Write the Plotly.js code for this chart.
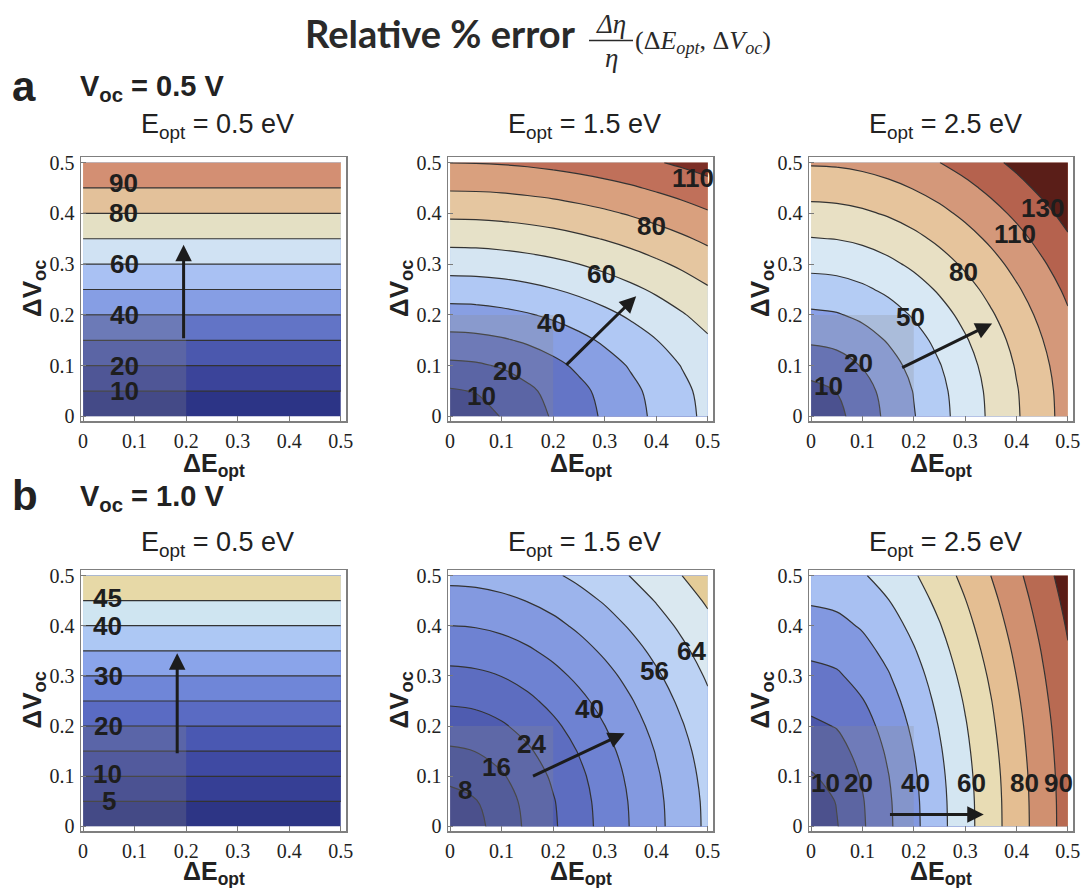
<!DOCTYPE html>
<html><head><meta charset="utf-8">
<script src="https://cdn.plot.ly/plotly-3.0.1.min.js"></script>
<style>html,body{margin:0;padding:0;background:#fff}#chart{width:1084px;height:888px}</style>
</head><body><div id="chart"></div>
<script>
// ================= DATA =================
const mainTitle = 'Relative % error';
const rowLetters = ['a', 'b'];
const rowTitles = ['V<sub>oc</sub> = 0.5 V', 'V<sub>oc</sub> = 1.0 V'];
const panelTitles = ['E<sub>opt</sub> = 0.5 eV', 'E<sub>opt</sub> = 1.5 eV', 'E<sub>opt</sub> = 2.5 eV'];
const xTitle = '<b>ΔE<sub>opt</sub></b>';
const yTitle = '<b>ΔV<sub>oc</sub></b>';
const tickVals = [0, 0.1, 0.2, 0.3, 0.4, 0.5];
const tickLabels = ['0', '0.1', '0.2', '0.3', '0.4', '0.5'];

// grids (ΔE_opt along x, ΔV_oc along y)
const dEgrid = [0, 0.05, 0.1, 0.15, 0.2, 0.25, 0.3, 0.35, 0.4, 0.45, 0.5];
const dVgrid = [0, 0.05, 0.1, 0.15, 0.2, 0.25, 0.3, 0.35, 0.4, 0.45, 0.5];
const dEends = [0, 0.5];
const dVends = [0, 0.5];

// relative % error values (rows = ΔV_oc, cols = ΔE_opt)
const zA1 = [[0, 0], [100, 100]];
const zB1 = [[0, 0], [50, 50]];
const zA2 = [
  [0, 5.8, 11.6, 17.4, 23.2, 29.0, 34.8, 40.6, 46.4, 52.2, 58.0],
  [10.0, 11.6, 15.3, 20.1, 25.3, 30.7, 36.2, 41.8, 47.5, 53.1, 58.9],
  [20.0, 20.8, 23.1, 26.5, 30.6, 35.2, 40.1, 45.3, 50.5, 55.9, 61.4],
  [30.0, 30.6, 32.2, 34.7, 37.9, 41.7, 46.0, 50.5, 55.3, 60.2, 65.3],
  [40.0, 40.4, 41.7, 43.6, 46.2, 49.4, 53.0, 57.0, 61.3, 65.8, 70.5],
  [50.0, 50.3, 51.3, 52.9, 55.1, 57.8, 60.9, 64.4, 68.2, 72.3, 76.6],
  [60.0, 60.3, 61.1, 62.5, 64.3, 66.6, 69.4, 72.5, 75.9, 79.5, 83.5],
  [70.0, 70.2, 71.0, 72.1, 73.7, 75.8, 78.2, 80.9, 84.0, 87.3, 90.9],
  [80.0, 80.2, 80.8, 81.9, 83.3, 85.1, 87.2, 89.7, 92.5, 95.5, 98.8],
  [90.0, 90.2, 90.7, 91.7, 92.9, 94.6, 96.5, 98.7, 101.3, 104.0, 107.1],
  [100.0, 100.2, 100.7, 101.5, 102.7, 104.1, 105.9, 107.9, 110.2, 112.8, 115.6]
];
const zA3 = [
  [0, 10.4, 20.8, 31.2, 41.6, 52.0, 62.4, 72.8, 83.2, 93.6, 104.0],
  [10.0, 14.4, 23.1, 32.8, 42.8, 53.0, 63.2, 73.5, 83.8, 94.1, 104.5],
  [20.0, 22.5, 28.9, 37.1, 46.2, 55.7, 65.5, 75.5, 85.6, 95.7, 105.9],
  [30.0, 31.8, 36.5, 43.3, 51.3, 60.0, 69.2, 78.7, 88.4, 98.3, 108.2],
  [40.0, 41.3, 45.1, 50.7, 57.7, 65.6, 74.1, 83.1, 92.3, 101.8, 111.4],
  [50.0, 51.1, 54.2, 58.9, 65.0, 72.1, 80.0, 88.3, 97.1, 106.1, 115.4],
  [60.0, 60.9, 63.5, 67.6, 73.0, 79.4, 86.6, 94.3, 102.6, 111.2, 120.1],
  [70.0, 70.8, 73.0, 76.6, 81.4, 87.2, 93.8, 101.0, 108.7, 116.9, 125.4],
  [80.0, 80.7, 82.7, 85.9, 90.2, 95.4, 101.5, 108.2, 115.4, 123.1, 131.2],
  [90.0, 90.6, 92.4, 95.3, 99.2, 103.9, 109.5, 115.8, 122.6, 129.9, 137.5],
  [100.0, 100.5, 102.1, 104.8, 108.3, 112.7, 117.9, 123.7, 130.1, 137.0, 144.3]
];
const zB2 = [
  [0, 5.8, 11.5, 17.3, 23.0, 28.8, 34.5, 40.3, 46.0, 51.8, 57.5],
  [5.0, 7.6, 12.5, 18.0, 23.5, 29.2, 34.9, 40.6, 46.3, 52.0, 57.7],
  [10.0, 11.5, 15.2, 19.9, 25.1, 30.4, 35.9, 41.5, 47.1, 52.7, 58.4],
  [15.0, 16.1, 18.9, 22.9, 27.5, 32.4, 37.6, 43.0, 48.4, 53.9, 59.4],
  [20.0, 20.8, 23.1, 26.4, 30.5, 35.0, 39.9, 45.0, 50.2, 55.5, 60.9],
  [25.0, 25.7, 27.5, 30.4, 34.0, 38.1, 42.6, 47.4, 52.4, 57.5, 62.7],
  [30.0, 30.6, 32.1, 34.6, 37.8, 41.6, 45.7, 50.2, 54.9, 59.8, 64.9],
  [35.0, 35.5, 36.8, 39.0, 41.9, 45.3, 49.2, 53.3, 57.8, 62.5, 67.3],
  [40.0, 40.4, 41.6, 43.6, 46.1, 49.3, 52.8, 56.8, 61.0, 65.4, 70.0],
  [45.0, 45.4, 46.5, 48.2, 50.5, 53.4, 56.7, 60.4, 64.4, 68.6, 73.0],
  [50.0, 50.3, 51.3, 52.9, 55.0, 57.7, 60.8, 64.2, 67.9, 72.0, 76.2]
];
const zB3 = [
  [0, 10.4, 20.7, 31.1, 41.4, 51.8, 62.1, 72.5, 82.8, 93.2, 103.5],
  [5.0, 11.5, 21.3, 31.5, 41.7, 52.0, 62.3, 72.6, 83.0, 93.3, 103.6],
  [10.0, 14.4, 23.0, 32.6, 42.6, 52.7, 62.9, 73.1, 83.4, 93.7, 104.0],
  [15.0, 18.2, 25.6, 34.5, 44.03, 53.9, 63.9, 74.0, 84.2, 94.4, 104.6],
  [20.0, 22.5, 28.8, 36.9, 46.0, 55.5, 65.2, 75.2, 85.2, 95.3, 105.4],
  [25.0, 27.1, 32.5, 39.9, 48.4, 57.5, 66.9, 76.6, 86.5, 96.5, 106.5],
  [30.0, 31.7, 36.5, 43.2, 51.1, 59.8, 69.0, 78.4, 88.1, 97.9, 107.8],
  [35.0, 36.5, 40.7, 46.8, 54.2, 62.5, 71.3, 80.5, 89.9, 99.5, 109.3],
  [40.0, 41.3, 45.0, 50.6, 57.6, 65.4, 73.9, 82.8, 92.0, 101.4, 111.0],
  [45.0, 46.2, 49.5, 54.7, 61.2, 68.6, 76.7, 85.3, 94.2, 103.5, 112.9],
  [50.0, 51.1, 54.1, 58.9, 64.9, 72.0, 79.7, 88.03, 96.7, 105.7, 115.0]
];

// contour levels of each panel
const levelsA1 = {start: 10, end: 90, size: 10};
const levelsA2 = {start: 11.1, end: 111, size: 11.1};
const levelsA3 = {start: 14.1, end: 126.9, size: 14.1};
const levelsB1 = {start: 5, end: 45, size: 5};
const levelsB2 = {start: 8, end: 72, size: 8};
const levelsB3 = {start: 11, end: 110, size: 11};

// contour label texts
const labelsA1 = ['90', '80', '60', '40', '20', '10'];
const labelsA2 = ['110', '80', '60', '40', '20', '10'];
const labelsA3 = ['130', '110', '80', '50', '20', '10'];
const labelsB1 = ['45', '40', '30', '20', '10', '5'];
const labelsB2 = ['64', '56', '40', '24', '16', '8'];
const labelsB3 = ['10', '20', '40', '60', '80', '90'];

// ================= STYLE / LAYOUT =================
const W = 1084, H = 888;
const px = v => v / W, py = v => 1 - v / H;
const colFrames = [[81, 346], [448, 713], [809, 1073]];
const rowFrames = [[157, 421], [570, 831]];

const bandColors = {
  A1: ['#2c3486', '#3b449a', '#4b58ae', '#6274c6', '#869ee4', '#a9c1f3', '#d0e2f3', '#e4e0c4', '#e3c19a', '#d38f73'],
  A2: ['#343c8e', '#4b58ae', '#6475c6', '#889fe3', '#b0c8f4', '#d5e5f2', '#e6e1c8', '#e5c6a0', '#d9a07e', '#c0705a', '#7c2e26'],
  A3: ['#363e90', '#5b6bc0', '#8aa0e6', '#b4ccf4', '#d8e8f4', '#e8e0c4', '#e6c49c', '#d4987a', '#b5624e', '#5a1e18'],
  B1: ['#2d3585', '#363f95', '#3f4aa3', '#4a58b2', '#5a6bc3', '#6f86d8', '#8aa4ea', '#adc8f4', '#cfe5f1', '#e7d9a7'],
  B2: ['#363c8c', '#414c9e', '#4f5cb0', '#5d6dc0', '#6e82d2', '#8399e0', '#9cb4ec', '#bcd2f4', '#dae8f0', '#e4cc98'],
  B3: ['#373e8e', '#4c58aa', '#6676c8', '#8298e0', '#a8c0f2', '#d4e6f2', '#e8dcb4', '#e4be92', '#d09070', '#b86a52', '#5a1c16']
};

const panels = [
  {key: 'A1', x: dEends, y: dVends, z: zA1, lv: levelsA1, labels: labelsA1, row: 0, col: 0,
   lpos: [[0.078, 0.46], [0.078, 0.40], [0.08, 0.30], [0.08, 0.20], [0.08, 0.10], [0.08, 0.05]],
   arrow: [0.195, 0.151, 0.195, 0.338]},
  {key: 'A2', x: dEgrid, y: dVgrid, z: zA2, lv: levelsA2, labels: labelsA2, row: 0, col: 1,
   lpos: [[0.471, 0.47], [0.39, 0.375], [0.2935, 0.28], [0.197, 0.184], [0.111, 0.089], [0.061, 0.04]],
   arrow: [0.2226, 0.0987, 0.361, 0.2368]},
  {key: 'A3', x: dEgrid, y: dVgrid, z: zA3, lv: levelsA3, labels: labelsA3, row: 0, col: 2,
   lpos: [[0.45, 0.41], [0.398, 0.359], [0.2975, 0.284], [0.194, 0.196], [0.0925, 0.105], [0.034, 0.059]],
   arrow: [0.1746, 0.0948, 0.3525, 0.183]},
  {key: 'B1', x: dEends, y: dVends, z: zB1, lv: levelsB1, labels: labelsB1, row: 1, col: 0,
   lpos: [[0.047, 0.455], [0.047, 0.40], [0.05, 0.30], [0.05, 0.20], [0.047, 0.105], [0.05, 0.05]],
   arrow: [0.1826, 0.143, 0.1826, 0.345]},
  {key: 'B2', x: dEgrid, y: dVgrid, z: zB2, lv: levelsB2, labels: labelsB2, row: 1, col: 1,
   lpos: [[0.468, 0.35], [0.397, 0.31], [0.271, 0.234], [0.158, 0.165], [0.09, 0.119], [0.029, 0.073]],
   arrow: [0.158, 0.099, 0.3387, 0.186]},
  {key: 'B3', x: dEgrid, y: dVgrid, z: zB3, lv: levelsB3, labels: labelsB3, row: 1, col: 2,
   lpos: [[0.028, 0.086], [0.0925, 0.086], [0.2025, 0.086], [0.312, 0.086], [0.416, 0.086], [0.481, 0.086]],
   arrow: [0.1507, 0.024, 0.3363, 0.024]}
];

function axisBase() {
  return {
    tickmode: 'array', tickvals: tickVals, ticktext: tickLabels,
    ticks: 'inside', ticklen: 5, tickwidth: 1, tickcolor: '#7a7a7a',
    showline: true, mirror: true, linecolor: '#7f7f7f', linewidth: 1.5,
    showgrid: false, zeroline: false, fixedrange: true,
    ticklabelstandoff: 1,
    tickfont: {family: 'Liberation Serif', size: 20, color: '#222'}
  };
}

const traces = [];
const layout = {
  width: W, height: H, margin: {l: 0, r: 0, t: 0, b: 0},
  paper_bgcolor: '#fff', plot_bgcolor: '#fff', showlegend: false,
  font: {family: 'Liberation Sans', color: '#222'},
  annotations: [], shapes: []
};

function paperText(text, x, y, font, opts) {
  return Object.assign({xref: 'paper', yref: 'paper', x: px(x), y: py(y), text: text,
    showarrow: false, xanchor: 'center', yanchor: 'middle', font: font}, opts || {});
}

panels.forEach((p, i) => {
  const n = i === 0 ? '' : String(i + 1);
  const c = colFrames[p.col], r = rowFrames[p.row];
  layout['xaxis' + n] = Object.assign(axisBase(), {domain: [px(c[0]), px(c[1])], anchor: 'y' + n, range: [-0.004, 0.51]});
  layout['yaxis' + n] = Object.assign(axisBase(), {domain: [py(r[1]), py(r[0])], anchor: 'x' + n, range: [-0.009, 0.511]});

  const cols = bandColors[p.key];
  const nc = cols.length - 1;
  const cs = cols.map((col, k) => [k / nc, col]);
  traces.push({
    type: 'contour', x: p.x, y: p.y, z: p.z, xaxis: 'x' + n, yaxis: 'y' + n,
    autocontour: false,
    // tiny margin on "end" so that floating-point rounding keeps the last level
    contours: {start: p.lv.start, end: p.lv.end + p.lv.size * 1e-3, size: p.lv.size, coloring: 'fill', showlines: true},
    colorscale: cs, showscale: false,
    line: {color: '#333', width: 1.2, smoothing: 1},
    hoverinfo: 'skip'
  });

  // translucent grey square
  layout.shapes.push({type: 'rect', xref: 'x' + n, yref: 'y' + n, x0: 0, y0: 0, x1: 0.2, y1: 0.2,
    fillcolor: 'rgba(140,140,140,0.25)', line: {width: 0}, layer: 'above'});

  // contour labels
  p.labels.forEach((t, k) => {
    layout.annotations.push({xref: 'x' + n, yref: 'y' + n, x: p.lpos[k][0], y: p.lpos[k][1],
      text: '<b>' + t + '</b>', showarrow: false,
      font: {family: 'Liberation Sans', size: 26, color: '#1e1e1e'}});
  });

  // arrow
  const a = p.arrow;
  layout.annotations.push({xref: 'x' + n, yref: 'y' + n, axref: 'x' + n, ayref: 'y' + n,
    x: a[2], y: a[3], ax: a[0], ay: a[1], text: '', showarrow: true,
    arrowhead: 2, arrowsize: 1.1, arrowwidth: 3, arrowcolor: '#1c1c1c', standoff: 0});

  // panel title
  const cx = (c[0] + c[1]) / 2;
  layout.annotations.push(paperText(panelTitles[p.col], cx + 4, p.row === 0 ? 126 : 544,
    {family: 'Liberation Sans', size: 27, color: '#222'}));
  // axis titles
  layout.annotations.push(paperText(xTitle, cx, p.row === 0 ? 465 : 873,
    {family: 'Liberation Sans', size: 25, color: '#222'}));
  layout.annotations.push(paperText(yTitle, c[0] - 48, (r[0] + r[1]) / 2,
    {family: 'Liberation Sans', size: 26, color: '#222'}, {textangle: -90}));
});

// row headers
[86, 496].forEach((y, k) => {
  layout.annotations.push(paperText('<b>' + rowLetters[k] + '</b>', 10, y,
    {family: 'Liberation Sans', size: 42, color: '#222'}, {xanchor: 'left'}));
  layout.annotations.push(paperText('<b>' + rowTitles[k] + '</b>', 78, y + 2,
    {family: 'Liberation Sans', size: 29, color: '#222'}, {xanchor: 'left'}));
});

// main title with fraction
layout.annotations.push(paperText('<b>' + mainTitle + '</b>', 303, 33, {family: 'Lato', size: 38, color: '#2a2a2a'}, {xanchor: 'left'}));
layout.annotations.push(paperText('<i>Δη</i>', 611, 24, {family: 'Liberation Serif', size: 27, color: '#2a2a2a'}));
layout.annotations.push(paperText('<i>η</i>', 611, 58, {family: 'Liberation Serif', size: 27, color: '#2a2a2a'}));
layout.shapes.push({type: 'line', xref: 'paper', yref: 'paper', x0: px(589), x1: px(633), y0: py(40.5), y1: py(40.5),
  line: {color: '#2a2a2a', width: 1.3}});
layout.annotations.push(paperText('(Δ<i>E</i><sub><i>opt</i></sub>, Δ<i>V</i><sub><i>oc</i></sub>)', 633, 42,
  {family: 'Liberation Serif', size: 26, color: '#2a2a2a'}, {xanchor: 'left'}));

Plotly.newPlot('chart', traces, layout, {staticPlot: true, displayModeBar: false});
</script>
</body></html>
